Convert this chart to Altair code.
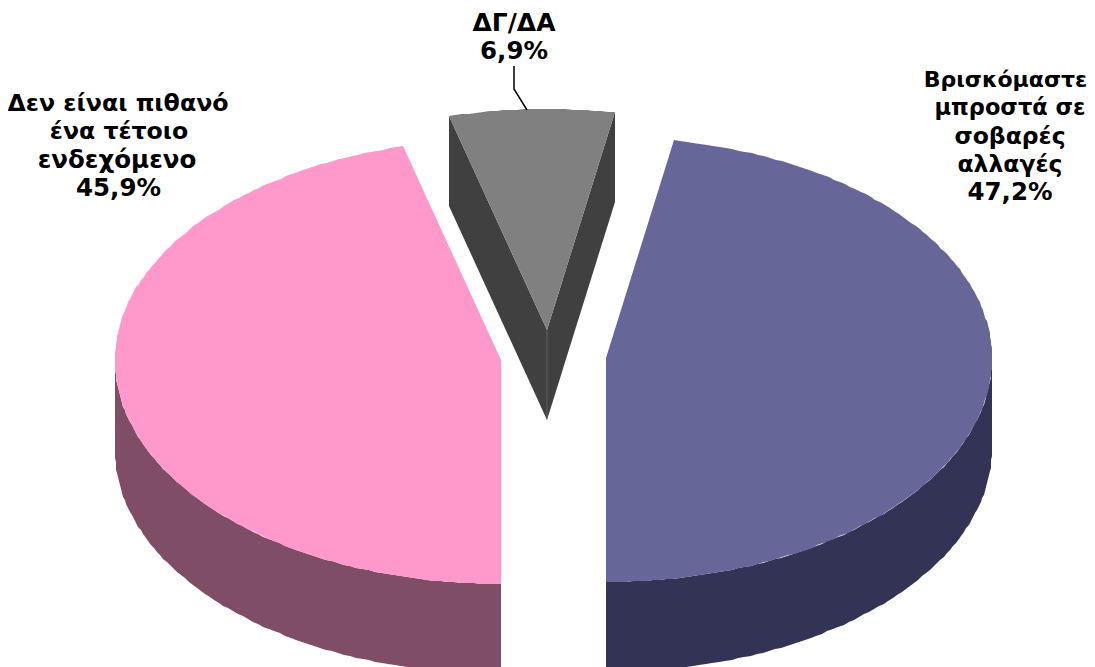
import math
import altair as alt
import pandas as pd

# values
names = ["Βρισκόμαστε\nμπροστά σε\nσοβαρές\nαλλαγές", "Δεν είναι πιθανό\nένα τέτοιο\nενδεχόμενο", "ΔΓ/ΔΑ"]
shares = [47.2, 45.9, 6.9]
tops = ["#666699", "#FF99CC", "#808080"]
walls = ["#333355", "#804D66", "#404040"]

# 3-D pie geometry (picture pixels)
start_deg = 180 - shares[0] * 3.6
centres = [(606, 358), (501, 360), (547, 330)]
RX, RY_BACK, RY_FRONT, DEPTH = 386, 221, 224, 90
label_x = [[1005.5, 1010, 1010, 1010, 1010], [118, 119, 117, 118.5], [514, 514]]
label_top = [87, 111, 31]
label_sizes = [[22, 22.5, 23.5, 23.5, 24.5], [23.7, 23.6, 24.5, 24.5], [25, 24.5]]
LINE_GAP = 28.3
FONT = "DejaVu Sans"

W, H = 1079, 659
x_scale = alt.Scale(domain=[8, 8 + W], range=[0, W], nice=False, zero=False)
y_scale = alt.Scale(domain=[8 + H, 8], range=[H, 0], nice=False, zero=False)


def rim(c, deg, drop=0):
    t = math.radians(deg)
    ry = RY_BACK if math.cos(t) > 0 else RY_FRONT
    return (round(c[0] + RX * math.sin(t)), round(c[1] - ry * math.cos(t) + drop))


def arc(c, a, b, drop=0):
    n = max(2, int(abs(b - a)) + 1)
    return [rim(c, a + (b - a) * i / (n - 1), drop) for i in range(n)]


def poly(points, colour):
    df = pd.DataFrame(points, columns=["x", "y"]).reset_index(names="i")
    return alt.Chart(df).mark_line(fill=colour, stroke=colour, strokeWidth=0, clip=True, interpolate="linear-closed").encode(
        x=alt.X("x:Q", scale=x_scale, axis=None),
        y=alt.Y("y:Q", scale=y_scale, axis=None),
        order="i:Q",
    )


spans = []
s = start_deg
for v in shares:
    spans.append((s, s + v * 3.6))
    s += v * 3.6

layers = []
# blue and pink outer walls
a, b = spans[0]
layers.append(poly(arc(centres[0], 90, b) + arc(centres[0], b, 90, DEPTH), walls[0]))
a, b = spans[1]
layers.append(poly(arc(centres[1], a, 270) + arc(centres[1], 270, a, DEPTH), walls[1]))
# gray cut faces
a, b = spans[2]
c = centres[2]
apex_top, apex_low = (c[0], c[1]), (c[0], c[1] + DEPTH)
for deg in (a, b):
    corner = rim(c, deg)
    low = rim(c, deg, DEPTH)
    layers.append(poly([apex_top, corner, low, apex_low], walls[2]))
seam = pd.DataFrame({"x": [apex_top[0], apex_low[0]], "y": [apex_top[1], apex_low[1]]})
layers.append(alt.Chart(seam).mark_line(color="#808080", strokeWidth=0.5).encode(
    x=alt.X("x:Q", scale=x_scale, axis=None), y=alt.Y("y:Q", scale=y_scale, axis=None)))
# top faces
for i in range(3):
    a, b = spans[i]
    layers.append(poly([centres[i]] + arc(centres[i], a, b), tops[i]))

# leader line of the small slice
leader = pd.DataFrame({"x": [514, 514, 527], "y": [66, 89, 110], "i": [0, 1, 2]})
layers.append(alt.Chart(leader).mark_line(color="black", strokeWidth=1.5).encode(
    x=alt.X("x:Q", scale=x_scale, axis=None), y=alt.Y("y:Q", scale=y_scale, axis=None), order="i:Q"))

# labels
rows = []
for nm, v, xs, top, sizes in zip(names, shares, label_x, label_top, label_sizes):
    lines = nm.split("\n") + [f"{v:.1f}%".replace(".", ",")]
    for k, line in enumerate(lines):
        rows.append({"x": xs[k], "y": top + k * LINE_GAP, "t": line, "s": sizes[k]})
layers.append(alt.Chart(pd.DataFrame(rows)).mark_text(
    font=FONT, fontWeight="bold", color="black", align="center", baseline="alphabetic"
).encode(
    x=alt.X("x:Q", scale=x_scale, axis=None), y=alt.Y("y:Q", scale=y_scale, axis=None), text="t:N",
    size=alt.Size("s:Q", scale=None, legend=None)))

chart = alt.layer(*layers).properties(
    width=W, height=H, padding=0, autosize=alt.AutoSizeParams(type="none"), background="white"
).configure_view(stroke=None)
chart.save("out.html", embed_options={"renderer": "svg", "actions": False})
